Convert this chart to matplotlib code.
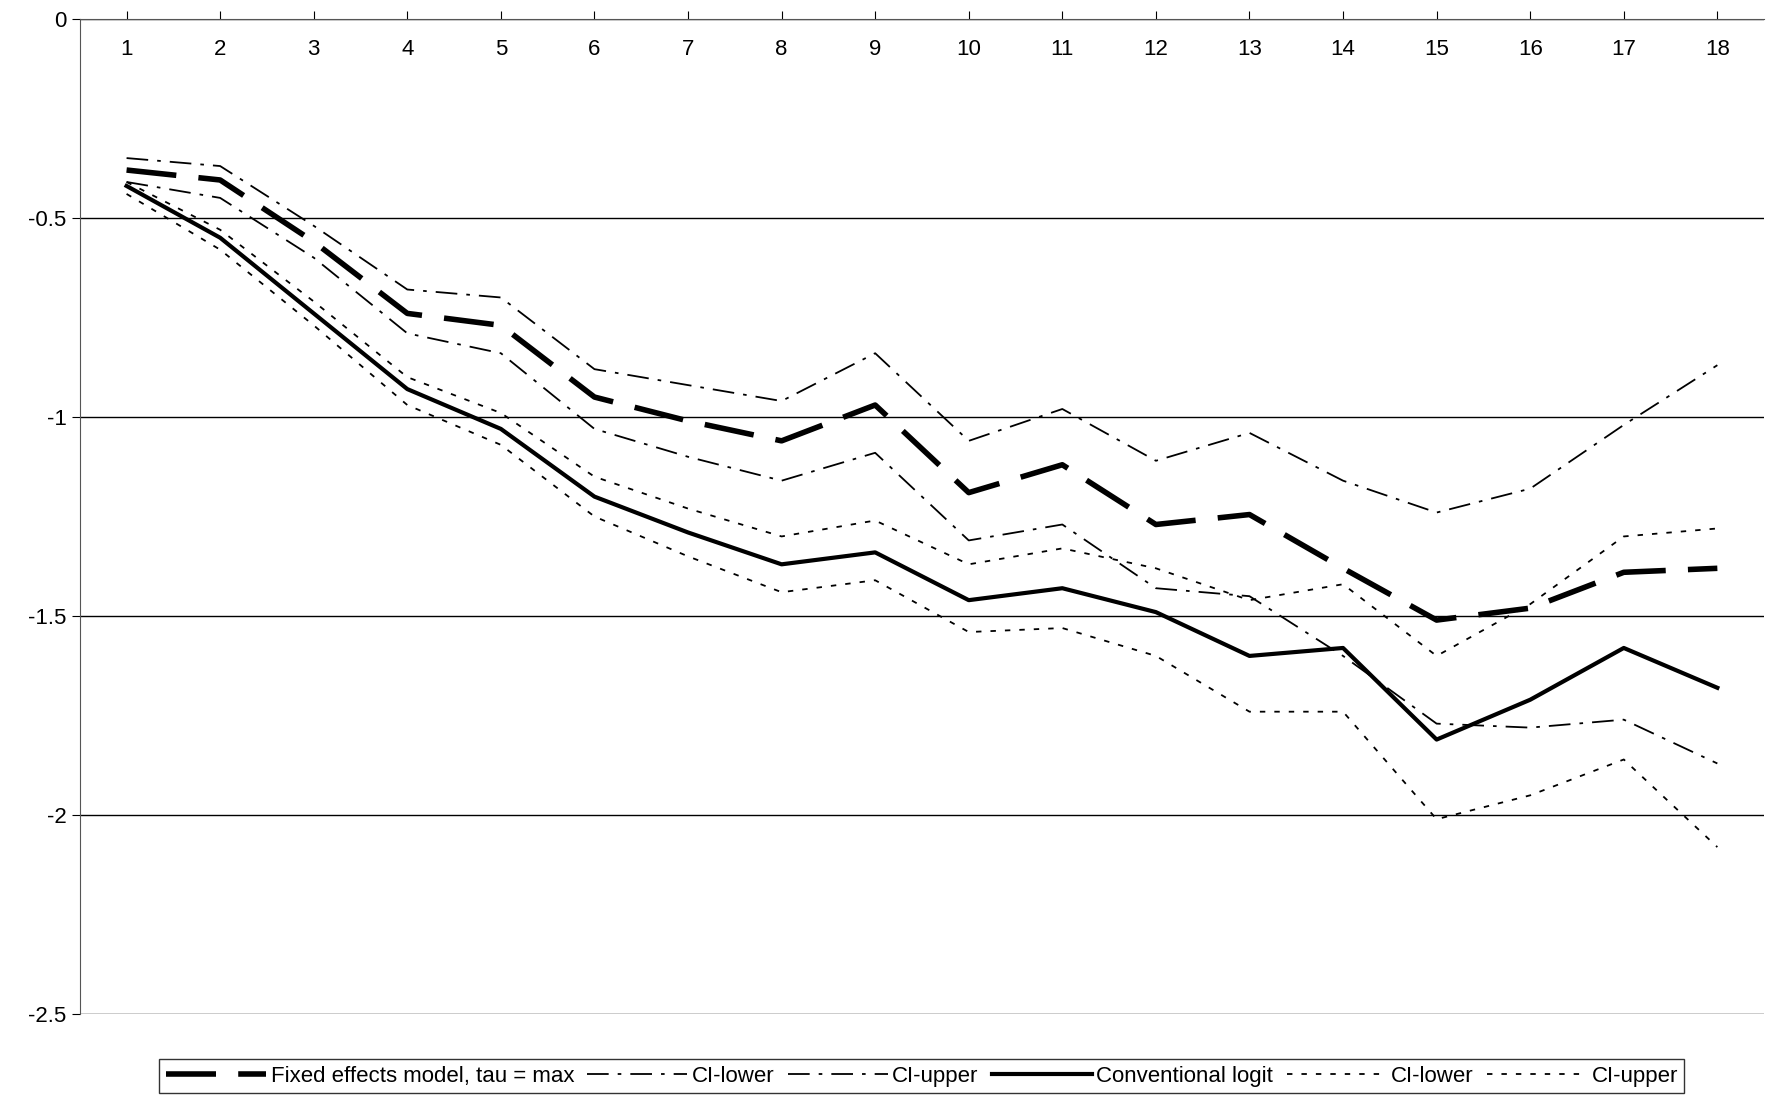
import matplotlib
matplotlib.use("Agg")
import matplotlib.pyplot as plt

plt.rcParams['font.family'] = ['Liberation Sans', 'DejaVu Sans']

periods = list(range(1, 19))
fe = [-0.38,-0.405,-0.56,-0.74,-0.77,-0.95,-1.01,-1.06,-0.97,-1.19,-1.12,-1.27,-1.245,-1.38,-1.51,-1.48,-1.39,-1.38]
fe_lo = [-0.41,-0.45,-0.60,-0.79,-0.84,-1.03,-1.10,-1.16,-1.09,-1.31,-1.27,-1.43,-1.45,-1.60,-1.77,-1.78,-1.76,-1.87]
fe_hi = [-0.35,-0.37,-0.52,-0.68,-0.70,-0.88,-0.92,-0.96,-0.84,-1.06,-0.98,-1.11,-1.04,-1.16,-1.24,-1.18,-1.02,-0.87]
cl = [-0.42,-0.55,-0.74,-0.93,-1.03,-1.20,-1.29,-1.37,-1.34,-1.46,-1.43,-1.49,-1.60,-1.58,-1.81,-1.71,-1.58,-1.68]
cl_lo = [-0.44,-0.58,-0.77,-0.97,-1.07,-1.25,-1.35,-1.44,-1.41,-1.54,-1.53,-1.60,-1.74,-1.74,-2.01,-1.95,-1.86,-2.08]
cl_hi = [-0.41,-0.53,-0.71,-0.90,-0.99,-1.15,-1.23,-1.30,-1.26,-1.37,-1.33,-1.38,-1.46,-1.42,-1.60,-1.47,-1.30,-1.28]
yticks = [0, -0.5, -1, -1.5, -2, -2.5]

fig = plt.figure(figsize=(17.73, 10.99), dpi=100)
ax = fig.add_axes([0.045, 0.077, 0.95, 0.906])
dashdot = (0, (12, 5, 2, 5))
ax.plot(periods, fe, color='black', lw=4, ls=(0, (9, 4)), label='Fixed effects model, tau = max')
ax.plot(periods, fe_lo, color='black', lw=1.3, ls=dashdot, label='CI-lower')
ax.plot(periods, fe_hi, color='black', lw=1.3, ls=dashdot, label='CI-upper')
ax.plot(periods, cl, color='black', lw=3, ls='-', label='Conventional logit')
ax.plot(periods, cl_lo, color='black', lw=1.3, ls=(0, (3, 5)), label='CI-lower')
ax.plot(periods, cl_hi, color='black', lw=1.3, ls=(0, (3, 5)), label='CI-upper')

ax.set_xlim(0.5, 18.5)
ax.set_ylim(-2.5, 0)
ax.set_yticks(yticks)
ax.set_yticklabels(['0', '-0.5', '-1', '-1.5', '-2', '-2.5'], fontsize=16)
ax.yaxis.grid(True, color='black', lw=1)
ax.set_axisbelow(True)
ax.xaxis.tick_top()
ax.set_xticks(periods)
ax.set_xticklabels([str(p) for p in periods], fontsize=16)
ax.tick_params(axis='x', direction='out', length=6, pad=-36)
ax.tick_params(axis='y', length=6)
for s in ['right', 'bottom']:
    ax.spines[s].set_visible(False)
ax.spines['left'].set_color('#555555')
ax.spines['top'].set_color('#555555')

fig.legend(loc='lower center', bbox_to_anchor=(0.52, -0.005), ncol=6, fontsize=16,
           frameon=True, fancybox=False, edgecolor='black', handlelength=4.5,
           handletextpad=0.2, columnspacing=0.6, borderpad=0.3)
fig.savefig('out.png', dpi=100)
